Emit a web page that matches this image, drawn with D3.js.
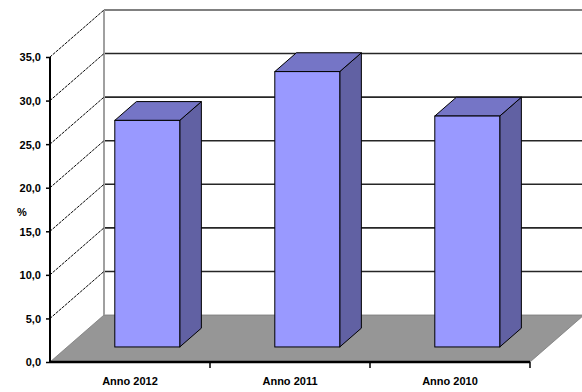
<!DOCTYPE html>
<html>
<head>
<meta charset="utf-8">
<script src="https://cdn.jsdelivr.net/npm/d3@7/dist/d3.min.js"></script>
<style>
html,body{margin:0;padding:0;background:#fff;}
svg{display:block;}
text{font-family:"Liberation Sans",Arial,sans-serif;font-weight:bold;fill:#000;}
</style>
</head>
<body>
<svg id="chart" width="582" height="392"></svg>
<script>
const categories = ["Anno 2012", "Anno 2011", "Anno 2010"];
const values = [26.0, 31.6, 26.5];
const yTicks = [0, 5, 10, 15, 20, 25, 30, 35];
const yAxisTitle = "%";

const W = 582, H = 392;
const svg = d3.select("#chart");

// front plane geometry
const x0 = 50, x1 = 530, yBottom = 362, yTop = 57;
const DX = 54, DY = -47; // full depth offset
const barDepthStart = 0.32, barDepth = 0.40;

const y = d3.scaleLinear().domain([0, 35]).range([yBottom, yTop]);
const x = d3.scaleBand().domain(categories).range([x0, x1])
  .paddingInner(0.594).paddingOuter(0.297);
const xCat = d3.scaleBand().domain(categories).range([x0, x1]).padding(0);

// floor
svg.append("polygon")
  .attr("points", [[x0, yBottom], [x0 + DX, yBottom + DY], [x1 + DX, yBottom + DY], [x1, yBottom]].map(p => p.join(",")).join(" "))
  .attr("fill", "#969696").attr("stroke", "#7a7a7a").attr("stroke-width", 0.8);

// back wall gridlines
const grid = svg.append("g");
yTicks.filter(t => t > 0).forEach(t => {
  const yy = y(t) + DY;
  grid.append("line")
    .attr("x1", x0 + DX).attr("x2", W + 5)
    .attr("y1", yy).attr("y2", yy)
    .attr("stroke", t === 35 ? "#808080" : "#262626")
    .attr("stroke-width", t === 35 ? 2 : 1.6);
});
// back wall left edge
grid.append("line")
  .attr("x1", x0 + DX).attr("x2", x0 + DX)
  .attr("y1", y(35) + DY).attr("y2", yBottom + DY)
  .attr("stroke", "#a0a0a0").attr("stroke-width", 2);

// side wall diagonals
yTicks.filter(t => t > 0).forEach(t => {
  grid.append("line")
    .attr("x1", x0).attr("y1", y(t))
    .attr("x2", x0 + DX).attr("y2", y(t) + DY)
    .attr("stroke", "#000").attr("stroke-width", 1)
    .attr("stroke-dasharray", "3,1");
});

// bars
const bars = svg.append("g");
categories.forEach((c, i) => {
  const v = values[i];
  const ox = barDepthStart * DX, oy = barDepthStart * DY;
  const dx = barDepth * DX, dy = barDepth * DY;
  const L = x(c) + ox, R = x(c) + x.bandwidth() + ox;
  const T = y(v) + oy, B = y(0) + oy;
  // side
  bars.append("polygon")
    .attr("points", [[R, T], [R + dx, T + dy], [R + dx, B + dy], [R, B]].map(p => p.join(",")).join(" "))
    .attr("fill", "#6161A3").attr("stroke", "#000").attr("stroke-width", 1);
  // top
  bars.append("polygon")
    .attr("points", [[L, T], [L + dx, T + dy], [R + dx, T + dy], [R, T]].map(p => p.join(",")).join(" "))
    .attr("fill", "#7575C6").attr("stroke", "#000").attr("stroke-width", 1);
  // front
  bars.append("rect")
    .attr("x", L).attr("y", T).attr("width", R - L).attr("height", B - T)
    .attr("fill", "#9999FF").attr("stroke", "#000").attr("stroke-width", 1);
});

// y axis
const yAxis = svg.append("g").attr("transform", `translate(${x0},0)`)
  .call(d3.axisLeft(y).tickValues(yTicks).tickSize(4).tickPadding(5)
    .tickFormat(d => d3.format(".1f")(d).replace(".", ",")));
yAxis.select(".domain").attr("stroke", "#000").attr("stroke-width", 2)
  .attr("d", `M0,${yTop}V${yBottom}`);
yAxis.selectAll(".tick line").attr("stroke", "#000").attr("stroke-width", 1.5);
yAxis.selectAll("text").style("font-size", "11px").attr("dy", "0.35em")
  .attr("fill", "#000");

// x axis
const xAxis = svg.append("g").attr("transform", `translate(0,${yBottom})`);
xAxis.append("line").attr("x1", x0).attr("x2", x1).attr("y1", 0).attr("y2", 0)
  .attr("stroke", "#000").attr("stroke-width", 2.5);
categories.forEach((c, i) => {
  const bx = xCat(c) + xCat.bandwidth();
  xAxis.append("line").attr("x1", bx).attr("x2", bx).attr("y1", 0).attr("y2", 6)
    .attr("stroke", "#000").attr("stroke-width", 1.5);
  xAxis.append("text")
    .attr("x", xCat(c) + xCat.bandwidth() / 2).attr("y", 23)
    .attr("text-anchor", "middle").style("font-size", "11px")
    .text(c);
});

// y title
svg.append("text").attr("x", 22).attr("y", 216).attr("text-anchor", "middle")
  .style("font-size", "11px").text(yAxisTitle);
</script>
</body>
</html>
